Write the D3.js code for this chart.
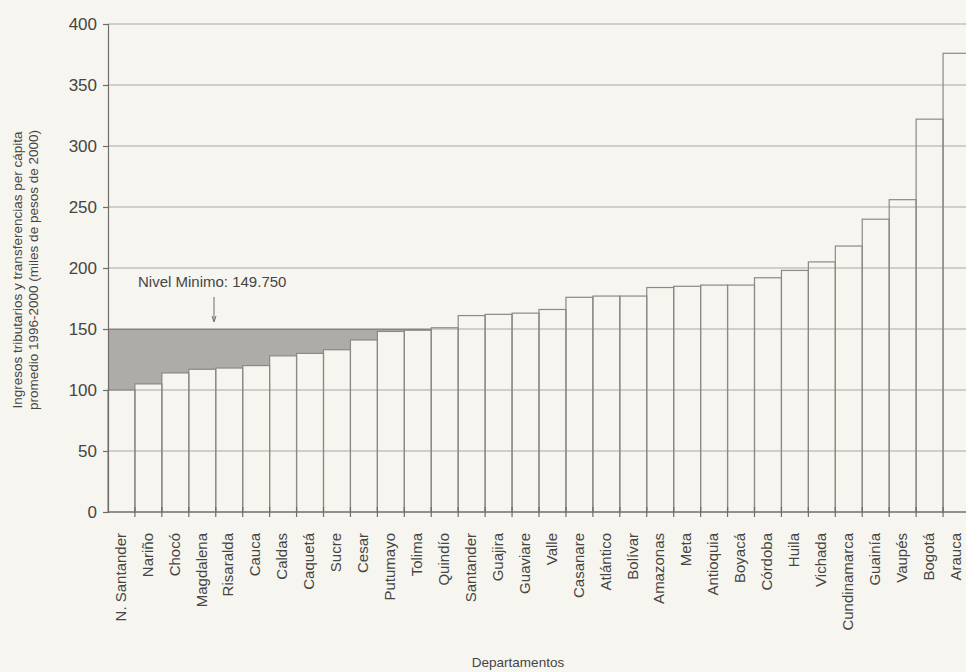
<!DOCTYPE html>
<html>
<head>
<meta charset="utf-8">
<script src="https://cdn.jsdelivr.net/npm/d3@7"></script>
<style>
  html, body { margin: 0; padding: 0; background: #f7f5ef; }
  svg { display: block; }
  text { font-family: "Liberation Sans", "DejaVu Sans", sans-serif; fill: #454543; }
</style>
</head>
<body>
<svg id="chart" width="966" height="672"></svg>
<script>
// Departamentos, ordenados de menor a mayor ingreso per cápita
const departamentos = [
  "N. Santander", "Nariño", "Chocó", "Magdalena", "Risaralda", "Cauca", "Caldas",
  "Caquetá", "Sucre", "Cesar", "Putumayo", "Tolima", "Quindío", "Santander",
  "Guajira", "Guaviare", "Valle", "Casanare", "Atlántico", "Bolívar", "Amazonas",
  "Meta", "Antioquia", "Boyacá", "Córdoba", "Huila", "Vichada", "Cundinamarca",
  "Guainía", "Vaupés", "Bogotá", "Arauca"
];
// Ingresos tributarios y transferencias per cápita, promedio 1996-2000 (miles de pesos de 2000)
const ingresos = [
  100, 105, 114, 117, 118, 120, 128, 130, 133, 141, 148, 149, 151, 161,
  162, 163, 166, 176, 177, 177, 184, 185, 186, 186, 192, 198, 205, 218,
  240, 256, 322, 376
];
const nivelMinimo = 149.75;
const nivelTexto = "Nivel Minimo: 149.750";
const yTicks = [0, 50, 100, 150, 200, 250, 300, 350, 400];

const svg = d3.select("#chart");
const mLeft = 108, mRight = 970, mTop = 24, mBottom = 512;

const x = d3.scaleBand().domain(departamentos).range([mLeft, mRight]).padding(0);
const y = d3.scaleLinear().domain([0, 400]).range([mBottom, mTop]);
const filas = departamentos.map((d, i) => ({ d, v: ingresos[i] }));

// líneas de referencia horizontales
svg.append("g")
  .selectAll("line")
  .data(yTicks.filter(d => d > 0))
  .join("line")
  .attr("x1", mLeft).attr("x2", 966)
  .attr("y1", d => y(d)).attr("y2", d => y(d))
  .attr("stroke", "#a8a7a2").attr("stroke-width", 1.2);

// área sombreada: faltante hasta el nivel mínimo (un solo trazo escalonado)
const bajo = filas.filter(o => o.v < nivelMinimo);
const ultimo = bajo[bajo.length - 1];
const puntos = bajo.map(o => [x(o.d), o.v]).concat([[x(ultimo.d) + x.bandwidth(), ultimo.v]]);
const area = d3.area()
  .curve(d3.curveStepAfter)
  .x(p => p[0])
  .y0(y(nivelMinimo))
  .y1(p => y(p[1]));
svg.append("path").attr("d", area(puntos)).attr("fill", "#aeaca6");

svg.append("line")
  .attr("x1", mLeft).attr("x2", x(ultimo.d) + x.bandwidth())
  .attr("y1", y(nivelMinimo)).attr("y2", y(nivelMinimo))
  .attr("stroke", "#85847f").attr("stroke-width", 1.2);

// barras (solo contorno)
svg.append("g")
  .selectAll("rect")
  .data(filas)
  .join("rect")
  .attr("x", o => x(o.d))
  .attr("width", x.bandwidth())
  .attr("y", o => y(o.v))
  .attr("height", o => y(0) - y(o.v))
  .attr("fill", "none")
  .attr("stroke", "#8a8984").attr("stroke-width", 1.2);

// eje Y
const yAxis = d3.axisLeft(y).tickValues(yTicks).tickSize(5).tickPadding(6);
const gy = svg.append("g").attr("transform", `translate(${mLeft},0)`).call(yAxis);
gy.select(".domain").attr("stroke", "#6e6d69").attr("stroke-width", 1.2);
gy.selectAll(".tick line").attr("stroke", "#6e6d69").attr("stroke-width", 1.2);
gy.selectAll(".tick text").attr("font-size", 17).attr("fill", "#454543")
  .style("font-family", "'Liberation Sans', sans-serif");

// eje X con marcas en los bordes de cada banda
const gx = svg.append("g");
gx.append("line")
  .attr("x1", mLeft).attr("x2", 966).attr("y1", mBottom).attr("y2", mBottom)
  .attr("stroke", "#6e6d69").attr("stroke-width", 1.2);
gx.selectAll("line.tk")
  .data(departamentos.slice(1))
  .join("line").attr("class", "tk")
  .attr("x1", d => x(d)).attr("x2", d => x(d))
  .attr("y1", mBottom - 5).attr("y2", mBottom + 5)
  .attr("stroke", "#6e6d69").attr("stroke-width", 1.2);
gx.selectAll("text")
  .data(departamentos)
  .join("text")
  .attr("transform", d => `translate(${x(d) + x.bandwidth() / 2 - 1},533) rotate(-90)`)
  .attr("text-anchor", "end")
  .attr("dy", "0.35em")
  .attr("font-size", 15)
  .text(d => d);

// títulos de los ejes
const yt = svg.append("text")
  .attr("transform", "translate(25,270) rotate(-90)")
  .attr("text-anchor", "middle")
  .attr("font-size", 13.5);
yt.append("tspan").attr("x", 0).attr("dy", "-0.25em").text("Ingresos tributarios y transferencias per cápita");
yt.append("tspan").attr("x", 0).attr("dy", "1.2em").text("promedio 1996-2000 (miles de pesos de 2000)");

svg.append("text")
  .attr("x", 518).attr("y", 667)
  .attr("text-anchor", "middle")
  .attr("font-size", 13.5)
  .text("Departamentos");

// anotación del nivel mínimo
svg.append("text")
  .attr("x", 138).attr("y", 287)
  .attr("font-size", 15)
  .text(nivelTexto);
const ax = 214;
svg.append("line")
  .attr("x1", ax).attr("x2", ax).attr("y1", 297).attr("y2", 321)
  .attr("stroke", "#6e6d69").attr("stroke-width", 1);
svg.append("path")
  .attr("d", `M${ax - 2},316 L${ax},322 L${ax + 2},316`)
  .attr("fill", "none").attr("stroke", "#6e6d69").attr("stroke-width", 1);
</script>
</body>
</html>
